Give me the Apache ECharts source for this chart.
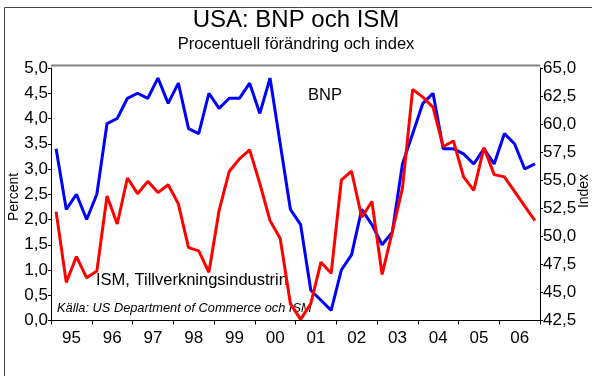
<!DOCTYPE html>
<html>
<head>
<meta charset="utf-8">
<script src="https://cdn.jsdelivr.net/npm/echarts@6/dist/echarts.min.js"></script>
<style>
  html, body { margin: 0; padding: 0; background: #fff; }
  #chart { width: 592px; height: 376px; }
</style>
</head>
<body>
<div id="chart"></div>
<script>
// Years shown on the time axis (quarterly data, 1995–2006)
const years = ['95', '96', '97', '98', '99', '00', '01', '02', '03', '04', '05', '06'];
const quartersPerYear = ['K1', 'K2', 'K3', 'K4'];

// BNP, annual % change (left axis)
const bnp = [
  3.4, 2.2, 2.5, 2.0,
  2.5, 3.9, 4.0, 4.4,
  4.5, 4.4, 4.8, 4.3,
  4.7, 3.8, 3.7, 4.5,
  4.2, 4.4, 4.4, 4.7,
  4.1, 4.8, 3.5, 2.2,
  1.9, 0.6, 0.4, 0.2,
  1.0, 1.3, 2.2, 1.9,
  1.5, 1.75, 3.1, 3.7,
  4.3, 4.5, 3.4, 3.4,
  3.3, 3.1, 3.4, 3.1,
  3.7, 3.5, 3.0, 3.1
];

// ISM manufacturing index (right axis)
const ism = [
  52.2, 45.9, 48.2, 46.3,
  46.9, 53.6, 51.1, 55.2,
  53.8, 54.9, 53.9, 54.6,
  52.9, 49.0, 48.7, 46.8,
  52.3, 55.8, 56.9, 57.7,
  54.7, 51.4, 49.8, 44.0,
  42.6, 44.0, 47.7, 46.7,
  55.0, 55.8, 51.7, 53.1,
  46.6, 50.4, 54.3, 63.1,
  62.4, 61.5, 58.0, 58.5,
  55.3, 54.1, 57.9, 55.5,
  55.3, 54.0, 52.7, 51.4
];

const quarters = [];
years.forEach(y => quartersPerYear.forEach(q => quarters.push(y + q)));

const FONT = "'Liberation Sans', Arial, sans-serif";
const comma = v => v.toFixed(1).replace('.', ',');

const chart = echarts.init(document.getElementById('chart'), null, { renderer: 'canvas' });

chart.setOption({
  animation: false,
  backgroundColor: '#ffffff',
  textStyle: { fontFamily: FONT, color: '#000' },
  grid: { left: 51, right: 52, top: 68, bottom: 55.5, containLabel: false, outerBoundsMode: 'none' },
  xAxis: [
    {
      type: 'category',
      data: quarters,
      boundaryGap: true,
      axisLine: { show: true, lineStyle: { color: '#000', width: 1 } },
      axisTick: { show: false },
      axisLabel: { show: false },
      splitLine: { show: false }
    },
    {
      type: 'category',
      data: years,
      boundaryGap: true,
      position: 'bottom',
      axisLine: { show: false },
      axisTick: { show: true, length: 4, lineStyle: { color: '#000' } },
      axisLabel: { fontFamily: FONT, fontSize: 17, color: '#000', margin: 9 },
      splitLine: { show: false }
    }
  ],
  yAxis: [
    {
      type: 'value',
      min: 0, max: 5, interval: 0.5,
      position: 'left',
      axisLine: { show: true, lineStyle: { color: '#000', width: 1 } },
      axisTick: { show: true, length: 3, lineStyle: { color: '#000' } },
      axisLabel: { fontFamily: FONT, fontSize: 17, color: '#000', margin: 3, formatter: comma },
      splitLine: { show: false }
    },
    {
      type: 'value',
      min: 42.5, max: 65, interval: 2.5,
      position: 'right',
      axisLine: { show: true, lineStyle: { color: '#000', width: 1 } },
      axisTick: { show: true, length: 3, lineStyle: { color: '#000' } },
      axisLabel: { fontFamily: FONT, fontSize: 17, color: '#000', margin: 3, formatter: comma },
      splitLine: { show: false }
    }
  ],
  series: [
    {
      name: 'BNP',
      type: 'line',
      xAxisIndex: 0,
      yAxisIndex: 0,
      data: bnp,
      showSymbol: false,
      lineStyle: { color: '#0000ff', width: 3 },
      itemStyle: { color: '#0000ff' },
      z: 2
    },
    {
      name: 'ISM',
      type: 'line',
      xAxisIndex: 0,
      yAxisIndex: 1,
      data: ism,
      showSymbol: false,
      lineStyle: { color: '#ff0000', width: 3 },
      itemStyle: { color: '#ff0000' },
      z: 3
    }
  ],
  graphic: [
    // outer frame of the figure
    {
      type: 'rect', silent: true, z: 0,
      shape: { x: 4.5, y: 7.5, width: 640, height: 420 },
      style: { fill: null, stroke: '#444', lineWidth: 1 }
    },
    // top edge of the plot area
    {
      type: 'line', silent: true, z: 1,
      shape: { x1: 51, y1: 65.5, x2: 540, y2: 65.5 },
      style: { stroke: '#808080', lineWidth: 2 }
    },
    {
      type: 'text', left: 'center', top: 8,
      style: { text: 'USA: BNP och ISM', font: "24px 'Liberation Sans', Arial, sans-serif", fill: '#000' }
    },
    {
      type: 'text', left: 'center', top: 36,
      style: { text: 'Procentuell förändring och index', font: "16.5px 'Liberation Sans', Arial, sans-serif", fill: '#000' }
    },
    // axis titles
    {
      type: 'text', x: 14, y: 197, rotation: Math.PI / 2,
      style: { text: 'Percent', font: "14px 'Liberation Sans', Arial, sans-serif", fill: '#000', align: 'center', verticalAlign: 'middle' }
    },
    {
      type: 'text', x: 584, y: 191, rotation: Math.PI / 2,
      style: { text: 'Index', font: "14px 'Liberation Sans', Arial, sans-serif", fill: '#000', align: 'center', verticalAlign: 'middle' }
    },
    // in-plot annotations
    {
      type: 'text', left: 308, top: 87,
      style: { text: 'BNP', font: "16.5px 'Liberation Sans', Arial, sans-serif", fill: '#000' }
    },
    {
      type: 'text', left: 96, top: 272,
      style: { text: 'ISM, Tillverkningsindustrin', font: "16.5px 'Liberation Sans', Arial, sans-serif", fill: '#000' }
    },
    {
      type: 'text', left: 57, top: 302,
      style: { text: 'Källa: US Department of Commerce och ISM', font: "italic 12.8px 'Liberation Sans', Arial, sans-serif", fill: '#000' }
    }
  ]
});
</script>
</body>
</html>
